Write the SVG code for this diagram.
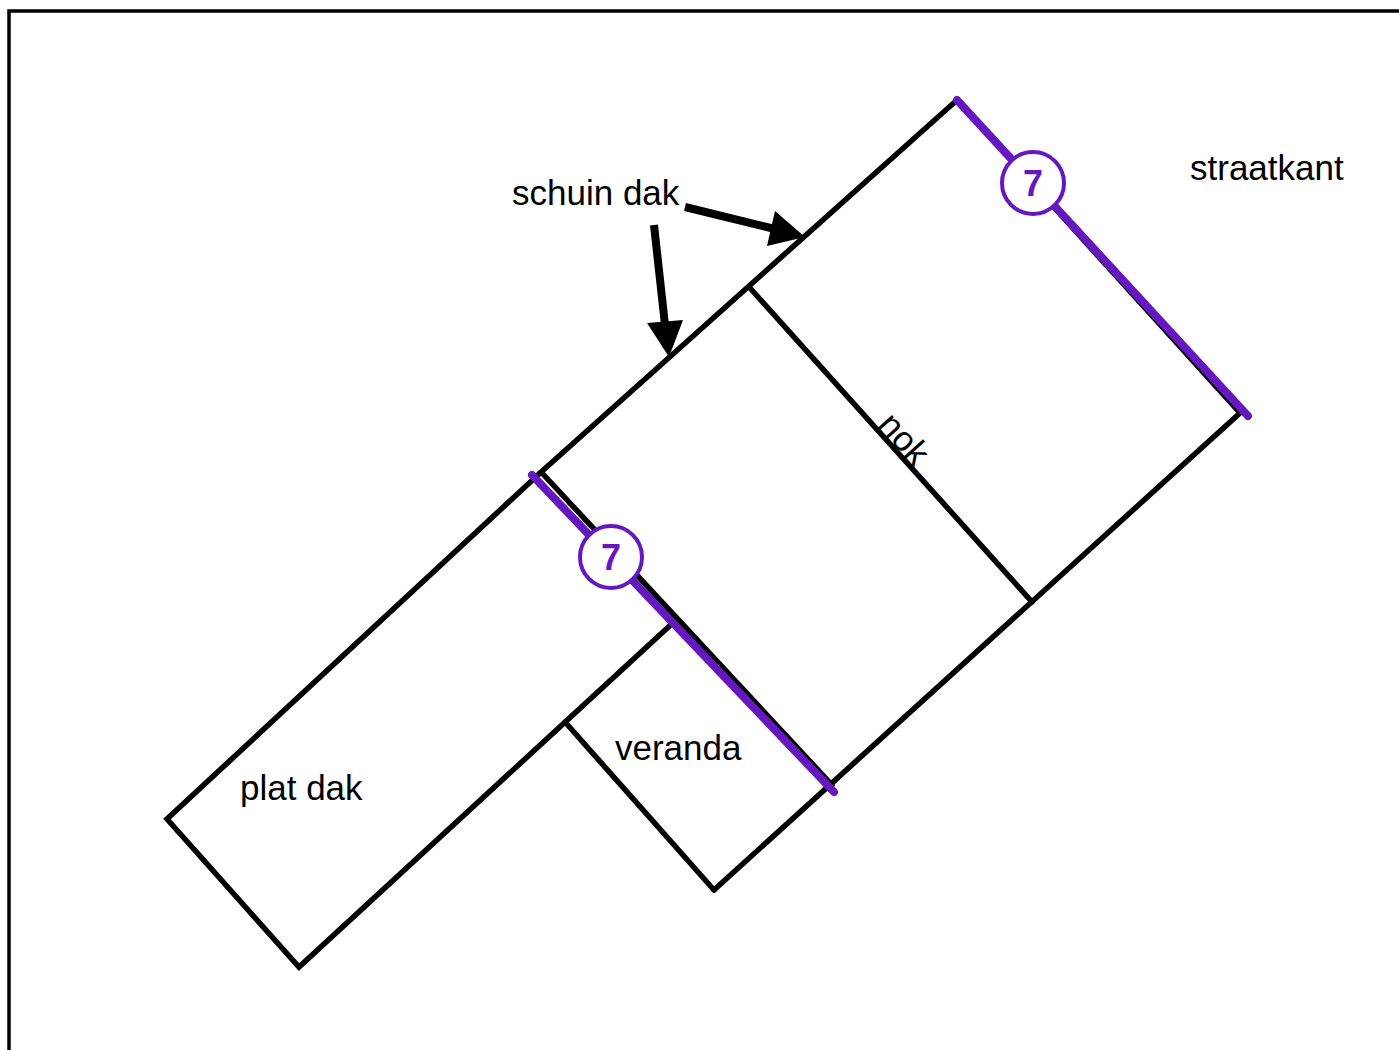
<svg xmlns="http://www.w3.org/2000/svg" width="1399" height="1050" viewBox="0 0 1399 1050">
<style>
.w{fill:none;stroke:#000;stroke-width:5.5;stroke-linecap:round;stroke-linejoin:miter}
.p{fill:none;stroke:#6517c0;stroke-width:8;stroke-linecap:round}
.t{font-family:"Liberation Sans",Arial,sans-serif;font-size:35px;fill:#000}
.c{fill:#fff;stroke:#6517c0;stroke-width:4}
.n{font-family:"Liberation Sans",Arial,sans-serif;font-size:36px;font-weight:bold;fill:#6517c0;text-anchor:middle}
.a{fill:none;stroke:#000;stroke-width:8}
</style>
<rect width="1399" height="1050" fill="#fff"/>
<path d="M9,1060 V11 H1410" fill="none" stroke="#000" stroke-width="3.5"/>
<g id="hoofdgebouw">
<path class="w" d="M540,473 L957,100 L1240,413 L714,890"/>
<path class="w" d="M542,473 L832,785"/>
</g>
<g id="nok">
<path class="w" d="M750,288 L1032,602"/>
<text class="t" transform="translate(884,419) rotate(48)" x="0" y="10">nok</text>
</g>
<g id="plat-dak">
<path class="w" d="M540,473 L167,819 L299,967 L676,620"/>
<text class="t" x="240" y="800">plat dak</text>
</g>
<g id="veranda">
<path class="w" d="M565,722 L714,890"/>
<text class="t" x="615" y="760">veranda</text>
</g>
<g id="straatkant">
<text class="t" x="1190" y="180">straatkant</text>
</g>
<g id="schuin-dak">
<text class="t" x="512" y="205">schuin dak</text>
</g>
<g id="connectors">
<line class="a" x1="685" y1="207" x2="775" y2="229"/>
<polygon points="775,211 767,246 805,237" fill="#000"/>
<line class="a" x1="654" y1="225" x2="665" y2="325"/>
<polygon points="647,323 683,320 669,357" fill="#000"/>
</g>
<g id="maat-7-boven">
<line class="p" x1="957" y1="100" x2="1248" y2="416"/>
<circle class="c" cx="1033" cy="183" r="31"/>
<text class="n" x="1033" y="196">7</text>
</g>
<g id="maat-7-onder">
<line class="p" x1="532" y1="475" x2="834" y2="792"/>
<circle class="c" cx="611" cy="557" r="31"/>
<text class="n" x="611" y="570">7</text>
</g>
</svg>
